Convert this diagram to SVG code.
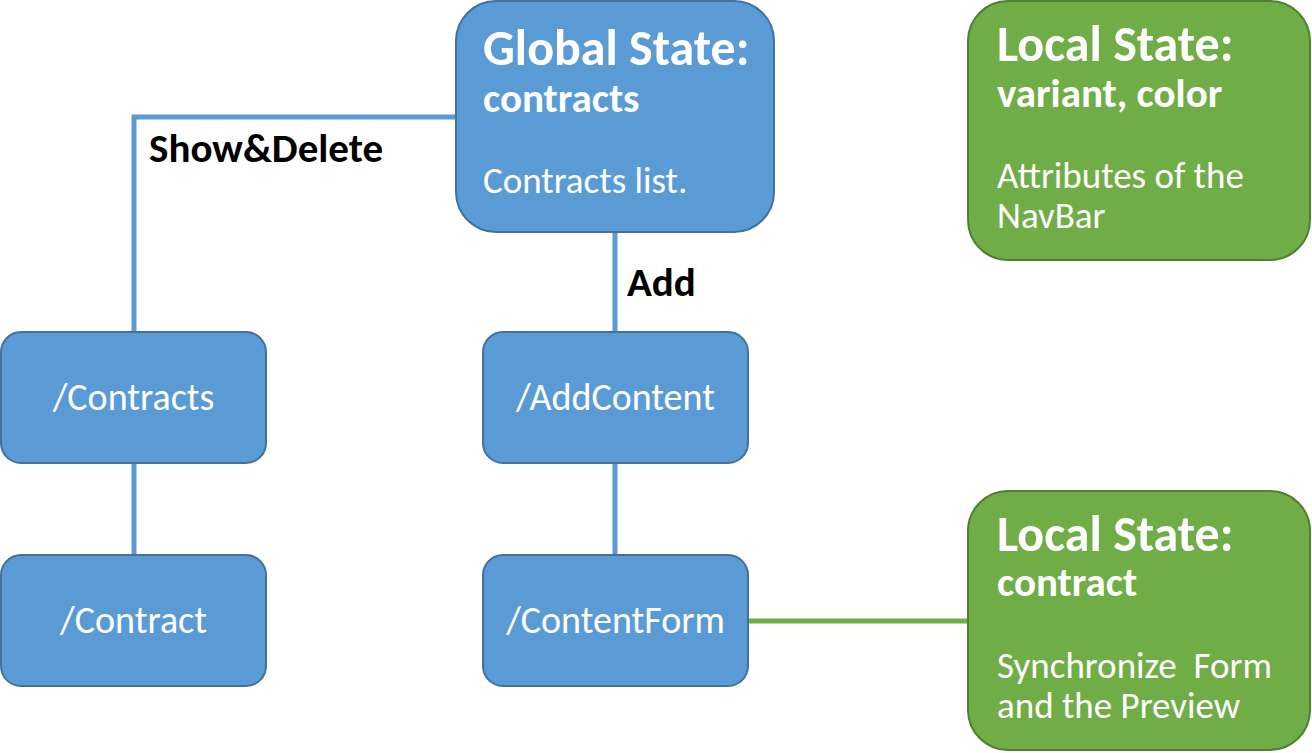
<svg xmlns="http://www.w3.org/2000/svg" width="1312" height="753" viewBox="0 0 1312 753">
<style>
.blue{fill:#5B9BD5;stroke:#41719C;stroke-width:2}
.green{fill:#70AD47;stroke:#507E32;stroke-width:2}
.t{font-family:Carlito,Lato,"Open Sans",sans-serif;fill:#fff}
.h1{font-size:50px;font-weight:bold}
.h2{font-size:41px;font-weight:bold}
.b{font-size:37px}
.c{font-size:38px;text-anchor:middle}
.lbl{font-family:Carlito,Lato,"Open Sans",sans-serif;font-size:41px;font-weight:bold;fill:#000}
.cb{stroke:#5B9BD5;stroke-width:5;fill:none}
.cg{stroke:#70AD47;stroke-width:5;fill:none}
</style>
<rect width="1312" height="753" fill="#fff"/>
<g id="connectors">
<polyline class="cb" points="134,332 134,117 456,117"/>
<line class="cb" x1="615" y1="232" x2="615" y2="332"/>
<line class="cb" x1="134" y1="463" x2="134" y2="555"/>
<line class="cb" x1="615" y1="463" x2="615" y2="555"/>
<line class="cg" x1="748" y1="621" x2="968" y2="621"/>
<text class="lbl" x="149" y="162">Show&amp;Delete</text>
<text class="lbl" x="627" y="296">Add</text>
</g>
<g id="global">
<rect class="blue" x="456" y="1" width="318" height="231" rx="40"/>
<text class="t h1" x="483" y="65">Global State:</text>
<text class="t h2" x="483" y="112">contracts</text>
<text class="t b" x="483" y="193">Contracts list.</text>
</g>
<g id="local1">
<rect class="green" x="968" y="1" width="342" height="259" rx="40"/>
<text class="t h1" x="997" y="61">Local State:</text>
<text class="t h2" x="997" y="107">variant, color</text>
<text class="t b" x="997" y="188">Attributes of the</text>
<text class="t b" x="997" y="228">NavBar</text>
</g>
<g id="contracts">
<rect class="blue" x="1" y="332" width="265" height="131" rx="20"/>
<text class="t c" x="133.5" y="410">/Contracts</text>
</g>
<g id="contract">
<rect class="blue" x="1" y="555" width="265" height="131" rx="20"/>
<text class="t c" x="133.5" y="633">/Contract</text>
</g>
<g id="addcontent">
<rect class="blue" x="483" y="332" width="265" height="131" rx="20"/>
<text class="t c" x="615.5" y="410">/AddContent</text>
</g>
<g id="contentform">
<rect class="blue" x="483" y="555" width="265" height="131" rx="20"/>
<text class="t c" x="615.5" y="633">/ContentForm</text>
</g>
<g id="local2">
<rect class="green" x="968" y="491" width="342" height="259" rx="40"/>
<text class="t h1" x="997" y="551">Local State:</text>
<text class="t h2" x="997" y="596">contract</text>
<text class="t b" x="997" y="678" xml:space="preserve">Synchronize  Form</text>
<text class="t b" x="997" y="718">and the Preview</text>
</g>
</svg>
